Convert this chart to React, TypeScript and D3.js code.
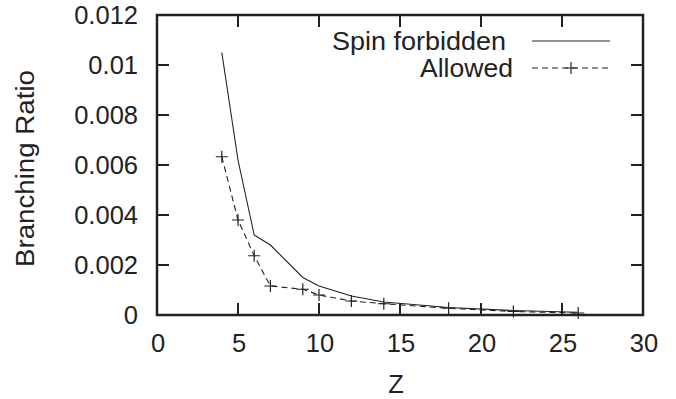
import React from 'react'
import * as d3 from 'd3'

const zValues = [4, 5, 6, 7, 9, 10, 12, 14, 18, 22, 26]
const spinForbidden = [0.0105, 0.0062, 0.0032, 0.0028, 0.0015, 0.00116, 0.00076, 0.00052, 0.0003, 0.00018, 0.00011]
const allowed = [0.00633, 0.0038, 0.00237, 0.00116, 0.00103, 0.0008, 0.00056, 0.00045, 0.00027, 0.00014, 0.00008]
const xTicks = [0, 5, 10, 15, 20, 25, 30]
const yTicks = [0, 0.002, 0.004, 0.006, 0.008, 0.01, 0.012]
const yTickLabels = ['0', '0.002', '0.004', '0.006', '0.008', '0.01', '0.012']

const W = 676
const H = 399
const left = 157
const right = 643
const top = 15
const bottom = 315
const ink = '#222'
const font = '"Liberation Sans", Arial, sans-serif'
const fs = 25.5
const tickLen = 12

export default function App() {
  const x = d3.scaleLinear().domain([0, 30]).range([left, right])
  const y = d3.scaleLinear().domain([0, 0.012]).range([bottom, top])

  const line = d3
    .line<number>()
    .x((d, i) => x(zValues[i]))
    .y(d => y(d))

  // gnuplot style "+" point
  const cross = (cx: number, cy: number, k: string) => (
    <path key={k} d={`M${cx - 6},${cy}H${cx + 6}M${cx},${cy - 6}V${cy + 6}`} stroke={ink} strokeWidth={1.2} fill="none" />
  )

  const legX1 = 532
  const legX2 = 610

  return (
    <svg width={W} height={H} style={{position: 'absolute', left: 0, top: 0}} fontFamily={font}>
      <rect width={W} height={H} fill="#fff" />
      {xTicks.map(t => (
        <g key={'xt' + t}>
          <line x1={x(t)} x2={x(t)} y1={bottom} y2={bottom - tickLen} stroke={ink} strokeWidth={2} />
          <line x1={x(t)} x2={x(t)} y1={top} y2={top + tickLen} stroke={ink} strokeWidth={2} />
          <text x={x(t) + 1} y={bottom + 37} textAnchor="middle" fontSize={fs} fill={ink}>{t}</text>
        </g>
      ))}
      {yTicks.map((t, i) => (
        <g key={'yt' + t}>
          <line x1={left} x2={left + tickLen} y1={y(t)} y2={y(t)} stroke={ink} strokeWidth={2} />
          <line x1={right} x2={right - tickLen} y1={y(t)} y2={y(t)} stroke={ink} strokeWidth={2} />
          <text x={138} y={y(t) + 9} textAnchor="end" fontSize={fs} fill={ink}>{yTickLabels[i]}</text>
        </g>
      ))}
      <rect x={left} y={top} width={right - left} height={bottom - top} fill="none" stroke={ink} strokeWidth={2.5} />

      <path d={line(spinForbidden) || ''} fill="none" stroke={ink} strokeWidth={1.1} />
      <path d={line(allowed) || ''} fill="none" stroke={ink} strokeWidth={1.1} strokeDasharray="6,4" />
      {allowed.map((v, i) => cross(x(zValues[i]), y(v), 'c' + i))}

      {/* legend */}
      <text x={332} y={50} fontSize={fs} fill={ink} textLength={174} lengthAdjust="spacingAndGlyphs">Spin forbidden</text>
      <line x1={legX1} x2={legX2} y1={41} y2={41} stroke={ink} strokeWidth={1.1} />
      <text x={420} y={77} fontSize={fs} fill={ink} textLength={93} lengthAdjust="spacingAndGlyphs">Allowed</text>
      <line x1={legX1} x2={legX2} y1={68} y2={68} stroke={ink} strokeWidth={1.1} strokeDasharray="6,4" />
      {cross((legX1 + legX2) / 2, 68, 'lc')}

      <text x={396} y={393} textAnchor="middle" fontSize={fs} fill={ink}>Z</text>
      <text transform="translate(34,267) rotate(-90)" fontSize={fs} fill={ink} textLength={197} lengthAdjust="spacingAndGlyphs">Branching Ratio</text>
    </svg>
  )
}
